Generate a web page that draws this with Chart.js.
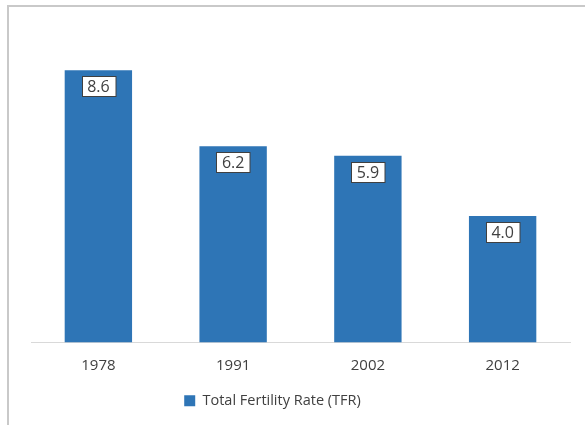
<!DOCTYPE html>
<html lang="en">
<head>
  <meta charset="UTF-8">
  <title>Total Fertility Rate</title>
  <script src="https://cdn.jsdelivr.net/npm/chart.js"></script>
  <style>
    body { margin: 0; overflow: hidden; background: #fff; }
    .wrap { position: relative; width: 585px; height: 425px; }
    .frame {
      position: absolute; left: 7px; top: 5px; width: 620px; height: 460px;
      border-left: 2px solid #c9c9c9; border-top: 2px solid #c9c9c9;
      pointer-events: none;
    }
    canvas { position: absolute; left: 0; top: 0; }
  </style>
</head>
<body>
<div class="wrap">
  <canvas id="tfrChart" width="585" height="425"></canvas>
  <div class="frame"></div>
</div>

<script>
  // chart data
  const years = ['1978', '1991', '2002', '2012'];
  const tfrValues = [8.6, 6.2, 5.9, 4.0];
  const seriesName = 'Total Fertility Rate (TFR)';

  const textColor = '#404040';
  const barColor = '#2E75B6';

  // white boxed value labels just inside the top of each bar
  const boxLabels = {
    id: 'boxLabels',
    afterDatasetsDraw(chart) {
      const ctx = chart.ctx;
      const meta = chart.getDatasetMeta(0);
      ctx.save();
      ctx.font = '16px "Open Sans"';
      ctx.textAlign = 'center';
      ctx.textBaseline = 'middle';
      meta.data.forEach((bar, i) => {
        const txt = tfrValues[i].toFixed(1);
        const w = ctx.measureText(txt).width + 11;
        const h = 20;
        const left = Math.round(bar.x - w / 2) + 0.5;
        const top = Math.round(bar.y + 6) + 0.5;
        ctx.fillStyle = '#fff';
        ctx.fillRect(left, top, w, h);
        ctx.strokeStyle = '#404040';
        ctx.lineWidth = 1;
        ctx.strokeRect(left, top, w, h);
        ctx.fillStyle = textColor;
        ctx.fillText(txt, bar.x, top + h / 2 + 1);
      });
      ctx.restore();
    }
  };

  // legend sits a bit left of centre and closer to the axis in the original
  const legendShift = {
    id: 'legendShift',
    afterLayout(chart) {
      chart.legend.left -= 28;
      chart.legend.right -= 28;
      chart.legend.top -= 6;
      chart.legend.bottom -= 6;
    }
  };

  new Chart(document.getElementById('tfrChart'), {
    type: 'bar',
    data: {
      labels: years,
      datasets: [{
        label: seriesName,
        data: tfrValues,
        backgroundColor: barColor,
        categoryPercentage: 1,
        barPercentage: 0.5
      }]
    },
    options: {
      responsive: false,
      animation: false,
      layout: { padding: { left: 31, right: 15, top: 26, bottom: 1 } },
      scales: {
        x: {
          grid: { display: false, drawTicks: false },
          border: { display: true, color: '#d9d9d9', width: 1 },
          ticks: { color: textColor, font: { family: 'Open Sans', size: 15 }, padding: 14 }
        },
        y: {
          display: false,
          min: 0,
          max: 10
        }
      },
      plugins: {
        legend: {
          position: 'bottom',
          labels: {
            color: textColor,
            font: { family: 'Open Sans', size: 14.5 },
            boxWidth: 11,
            boxHeight: 11,
            padding: 11
          }
        },
        tooltip: { enabled: false }
      }
    },
    plugins: [boxLabels, legendShift]
  });
</script>
</body>
</html>
